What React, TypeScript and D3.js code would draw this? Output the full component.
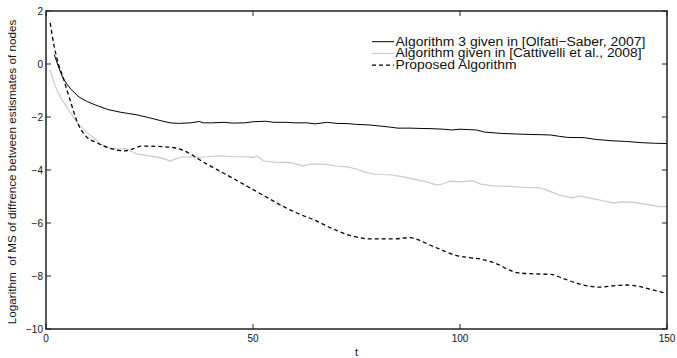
import React from "react";
import * as d3 from "d3";

const xTicks = [0, 50, 100, 150];
const yTicks = [-10, -8, -6, -4, -2, 0, 2];

const olfatiT = [2, 3, 4, 5, 6, 8, 10, 12, 15, 18, 20, 22, 25, 28, 30, 32, 35, 37, 38, 40, 43, 45, 48, 50, 53, 55, 58, 60, 63, 65, 68, 70, 73, 75, 78, 80, 83, 85, 88, 90, 93, 96, 98, 100, 104, 106, 110, 115, 120, 122, 124, 126, 130, 133, 137, 140, 144, 147, 150];
const olfatiV = [0.35, -0.1, -0.5, -0.75, -0.95, -1.25, -1.42, -1.55, -1.72, -1.82, -1.87, -1.92, -2.03, -2.15, -2.22, -2.24, -2.22, -2.17, -2.22, -2.22, -2.2, -2.23, -2.22, -2.18, -2.16, -2.2, -2.2, -2.22, -2.22, -2.26, -2.2, -2.24, -2.25, -2.28, -2.3, -2.33, -2.38, -2.42, -2.42, -2.43, -2.44, -2.46, -2.49, -2.46, -2.49, -2.57, -2.62, -2.65, -2.67, -2.68, -2.73, -2.77, -2.78, -2.85, -2.9, -2.92, -2.97, -2.99, -3.0];

const cattT = [1, 2, 3, 4, 5, 6, 7, 8, 9, 10, 12, 13, 15, 16, 18, 19.5, 21, 22, 25, 28, 30, 31, 33, 36, 39, 42, 45, 48, 50, 51, 52.5, 55, 59, 61, 62, 64, 67, 70, 73, 75, 78, 80, 83, 86, 90, 92, 94.4, 96, 97.6, 100, 103, 105, 108, 112, 117, 119, 121, 124, 127, 129, 132, 134.5, 137, 139, 142, 145, 148, 150];
const cattV = [-0.2, -0.75, -1.1, -1.38, -1.62, -1.85, -2.1, -2.3, -2.45, -2.6, -2.85, -3.0, -3.15, -3.22, -3.2, -3.2, -3.32, -3.4, -3.47, -3.55, -3.66, -3.6, -3.5, -3.52, -3.5, -3.47, -3.5, -3.5, -3.52, -3.48, -3.65, -3.7, -3.72, -3.8, -3.85, -3.78, -3.78, -3.85, -3.88, -3.97, -4.12, -4.17, -4.18, -4.25, -4.38, -4.45, -4.57, -4.52, -4.42, -4.45, -4.4, -4.53, -4.6, -4.62, -4.67, -4.66, -4.76, -4.95, -5.05, -4.98, -5.08, -5.16, -5.24, -5.2, -5.22, -5.3, -5.38, -5.38];

const propT = [1, 2, 3, 4, 5, 6, 7, 8, 9, 10, 12, 14, 16, 18, 19, 21, 23, 25, 28, 31, 33, 35.5, 38, 41, 45, 49, 53, 57, 61, 65, 69, 73, 76, 78, 84, 88, 90, 93, 95, 99, 102, 105, 109, 112, 114, 118, 122, 125, 128, 131, 134, 137, 140, 143.5, 146, 150];
const propV = [1.55, 0.65, 0.0, -0.45, -0.95, -1.45, -1.95, -2.35, -2.6, -2.78, -2.95, -3.1, -3.2, -3.27, -3.28, -3.2, -3.1, -3.1, -3.12, -3.16, -3.25, -3.45, -3.7, -3.96, -4.3, -4.65, -5.0, -5.35, -5.65, -5.9, -6.2, -6.45, -6.56, -6.6, -6.6, -6.55, -6.64, -6.85, -6.98, -7.22, -7.3, -7.36, -7.55, -7.78, -7.88, -7.92, -7.94, -8.1, -8.26, -8.38, -8.42, -8.37, -8.34, -8.4, -8.5, -8.66];

const legendLabels = [
  "Algorithm 3 given in [Olfati\u2212Saber, 2007]",
  "Algorithm given in [Cattivelli et al., 2008]",
  "Proposed Algorithm",
];

const W = 677;
const H = 358;
const M = { left: 46, right: 10, top: 11, bottom: 29 };
const FONT = "'Liberation Sans', Arial, Helvetica, sans-serif";
const GRAY = "#cdc9c5";

export default function App() {
  const x = d3.scaleLinear().domain([0, 150]).range([M.left, W - M.right]);
  const y = d3.scaleLinear().domain([-10, 2]).range([H - M.bottom, M.top]);
  const line = d3
    .line<[number, number]>()
    .x((d) => x(d[0]))
    .y((d) => y(d[1]));
  const zip = (ts: number[], vs: number[]) => ts.map((t, i) => [t, vs[i]] as [number, number]);
  const dOlf = line(zip(olfatiT, olfatiV)) || "";
  const dCat = line(zip(cattT, cattV)) || "";
  const dProp = line.curve(d3.curveMonotoneX)(zip(propT, propV)) || "";

  const x0 = x(0), x1 = x(150), y0 = y(-10), y1 = y(2);
  const tl = 5;
  const fmt = (v: number) => (v < 0 ? "\u2212" + Math.abs(v) : String(v));

  const legX = 372;
  const legY = [41.7, 53.4, 65.1];
  const legLen = [250, 246, 121];
  const styles = [
    { stroke: "#000", dash: undefined as string | undefined, w: 1 },
    { stroke: GRAY, dash: undefined, w: 1.2 },
    { stroke: "#000", dash: "4,3", w: 1.3 },
  ];

  return (
    <svg width={W} height={H} style={{ position: "absolute", left: 0, top: 0, background: "#fff" }} fontFamily={FONT}>
      <rect width={W} height={H} fill="#fff" />
      <path d={dCat} fill="none" stroke={GRAY} strokeWidth={1.2} />
      <path d={dOlf} fill="none" stroke="#000" strokeWidth={1} />
      <path d={dProp} fill="none" stroke="#000" strokeWidth={1.3} strokeDasharray="4,3" />

      <rect x={x0} y={y1} width={x1 - x0} height={y0 - y1} fill="none" stroke="#222" strokeWidth={1.5} />
      {xTicks.map((t) => (
        <g key={"x" + t}>
          <line x1={x(t)} x2={x(t)} y1={y0} y2={y0 - tl} stroke="#222" strokeWidth={1} />
          <line x1={x(t)} x2={x(t)} y1={y1} y2={y1 + tl} stroke="#222" strokeWidth={1} />
          <text x={x(t)} y={y0 + 13} fontSize={10} textAnchor="middle" fill="#111">
            {fmt(t)}
          </text>
        </g>
      ))}
      {yTicks.map((t) => (
        <g key={"y" + t}>
          <line x1={x0} x2={x0 + tl} y1={y(t)} y2={y(t)} stroke="#222" strokeWidth={1} />
          <line x1={x1} x2={x1 - tl} y1={y(t)} y2={y(t)} stroke="#222" strokeWidth={1} />
          <text x={x0 - 3} y={y(t) + 3.5} fontSize={10} textAnchor="end" fill="#111">
            {fmt(t)}
          </text>
        </g>
      ))}
      <text x={(x0 + x1) / 2} y={H - 2} fontSize={11} textAnchor="middle" fill="#111">
        t
      </text>
      <text
        transform={`translate(${16},${(y0 + y1) / 2 + 2}) rotate(-90)`}
        fontSize={11.7}
        textAnchor="middle"
        fill="#111"
        style={{ whiteSpace: "pre" }}
      >
        {"Logarithm  of MS of diffrence between estismates of nodes"}
      </text>

      {legendLabels.map((lab, i) => (
        <g key={lab}>
          <line
            x1={legX}
            x2={legX + 22}
            y1={legY[i]}
            y2={legY[i]}
            stroke={styles[i].stroke}
            strokeWidth={styles[i].w}
            strokeDasharray={styles[i].dash}
          />
          <text
            x={legX + 23.5}
            y={legY[i] + 4}
            fontSize={12.5}
            fill="#111"
            textLength={legLen[i]}
            lengthAdjust="spacingAndGlyphs"
          >
            {lab}
          </text>
        </g>
      ))}
    </svg>
  );
}
